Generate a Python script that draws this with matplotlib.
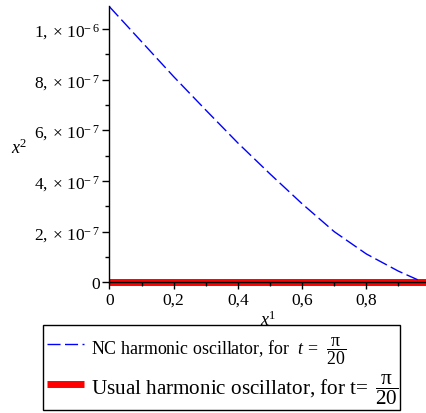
import matplotlib.pyplot as plt
from matplotlib.patches import Rectangle
import numpy as np

plt.rcParams['font.family'] = ['Liberation Serif', 'DejaVu Serif']
plt.rcParams['mathtext.fontset'] = 'custom'
plt.rcParams['mathtext.rm'] = 'Liberation Serif'
plt.rcParams['mathtext.it'] = 'Liberation Serif:italic'

# NC harmonic oscillator curve
x_nc = [0.0, 0.1, 0.2, 0.3, 0.4, 0.5, 0.6, 0.7, 0.8, 0.9, 0.96]
y_nc = [1.088e-6, 0.950e-6, 0.812e-6, 0.680e-6, 0.550e-6, 0.428e-6,
        0.310e-6, 0.200e-6, 0.112e-6, 0.044e-6, 0.010e-6]

# usual oscillator stays at zero
x_usual = [0.0, 0.99]
y_usual = [0.0, 0.0]

xticks = [0, 0.2, 0.4, 0.6, 0.8]
xtick_labels = ['0', '0,2', '0,4', '0,6', '0,8']
yticks = [0, 2e-7, 4e-7, 6e-7, 8e-7, 1e-6]
ytick_labels = ['0', r'$2,\times\,10^{-\,7}$', r'$4,\times\,10^{-\,7}$',
                r'$6,\times\,10^{-\,7}$', r'$8,\times\,10^{-\,7}$', r'$1,\times\,10^{-\,6}$']

W, H = 427, 414
fig = plt.figure(figsize=(W / 100, H / 100), dpi=100)
x0, y0 = 109.5, 283.3
ax = fig.add_axes([x0 / W, (H - y0) / H, (W - x0) / W, (y0 - 7) / H])
ax.set_xlim(0, 0.989)
ax.set_ylim(0, 1.091e-6)

l1, = ax.plot(x_nc, y_nc, color='#0000ff', lw=1.0, dashes=(9.4, 3.2),
              label=r'NC harmonic oscillator, for  $t\,=\,\ \dfrac{\mathrm{π}}{20}$')
l2, = ax.plot(x_usual, y_usual, color='#ff0000', lw=5, clip_on=False,
              solid_capstyle='butt', zorder=1,
              label=r'Usual harmonic oscillator, for t= $\,\dfrac{\mathrm{π}}{20}$')

for s in ['top', 'right']:
    ax.spines[s].set_visible(False)
ax.spines['left'].set_linewidth(1.0)
ax.spines['bottom'].set_linewidth(1.0)

ax.set_xticks(xticks)
ax.set_xticklabels(xtick_labels)
ax.set_xticks([0.1, 0.3, 0.5, 0.7, 0.9], minor=True)
ax.set_yticks(yticks)
ax.set_yticklabels(ytick_labels)
ax.set_yticks([1e-7, 3e-7, 5e-7, 7e-7, 9e-7], minor=True)
ax.tick_params(which='major', length=5, width=1, labelsize=12.5, pad=2)
ax.tick_params(which='minor', length=3, width=1)

fig.text(268 / W, 1 - 320 / H, r'$x^1$', fontsize=13, ha='center', va='center')
fig.text(19 / W, 1 - 148 / H, r'$x^2$', fontsize=13, ha='center', va='center')

# legend without its own frame, the box is drawn separately
leg = fig.legend(handles=[l1, l2], loc='upper left',
                 bbox_to_anchor=(47 / W, 1 - 335 / H), fontsize=12,
                 frameon=False, handlelength=2.22, handleheight=2.4,
                 borderaxespad=0, borderpad=0, labelspacing=0.34,
                 handletextpad=0.4)
leg.get_texts()[0].set_fontsize(12.9)
leg.get_texts()[1].set_fontsize(15.2)

fig.patches.append(Rectangle((43 / W, 1 - 411 / H), 357 / W, 85 / H,
                             transform=fig.transFigure, fill=False,
                             edgecolor='black', lw=1.0))

fig.savefig('out.png', dpi=100)
